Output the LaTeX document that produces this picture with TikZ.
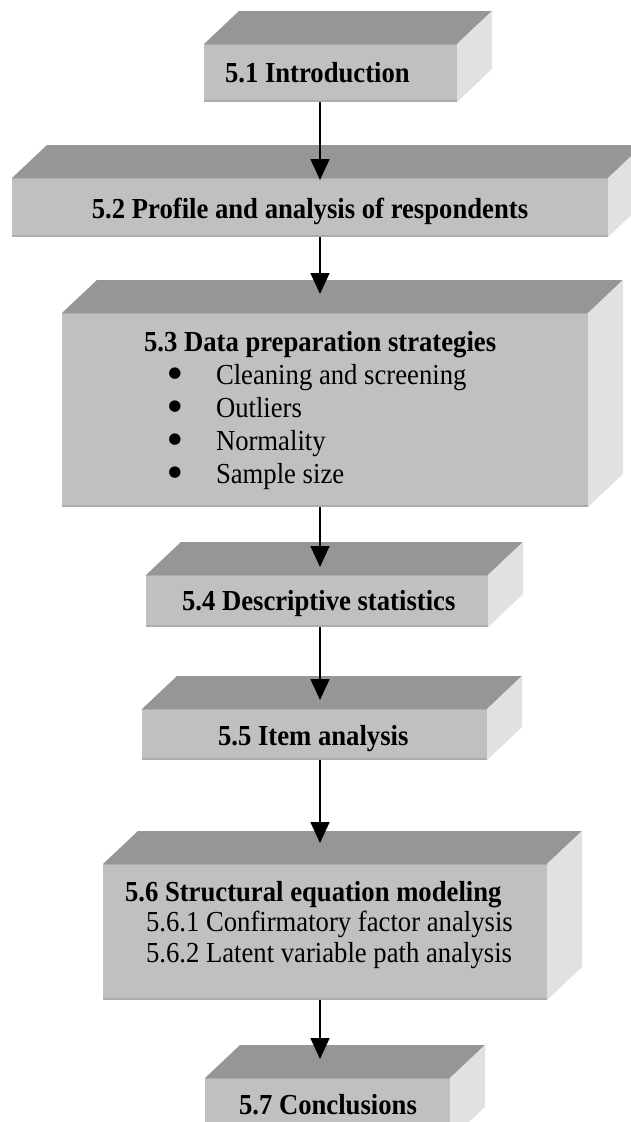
\documentclass[tikz,border=0pt]{standalone}
\usepackage{fontspec}
\setmainfont{Liberation Serif}[FakeStretch=0.92]
\newfontfamily\symfont{DejaVu Sans}
\usetikzlibrary{arrows.meta}

\definecolor{topgray}{RGB}{150,150,150}
\definecolor{frontgray}{RGB}{192,192,192}
\definecolor{sidegray}{RGB}{225,225,225}
\definecolor{edgegray}{RGB}{172,172,172}

\tikzset{
  frontface/.style={fill=frontgray, draw=none, inner sep=0pt, outer sep=0pt},
  txt/.style={inner sep=0pt, outer sep=0pt, font=\fontsize{29}{33}\selectfont},
  hd/.style={txt, font=\fontsize{29}{33}\selectfont\bfseries},
  flow/.style={line width=1.6pt, -{Triangle[width=19pt,length=21pt]}},
}

% bulleted item: a round bullet centred in a slot, then the text
\newcommand\bulletitem[1]{%
  \makebox[48pt][l]{\makebox[14pt][c]{\raisebox{3.75pt}{$\vcenter{\hbox{\symfont\fontsize{15}{15}\selectfont ●}}$}}}#1}

% 3-D slab: name, left, top, right, bottom of the front face
\newcommand\drawslab[5]{%
  \node[frontface, minimum width={(#4-#2)*1pt}, minimum height={(#5-#3)*1pt}]
    (#1) at ({(#2+#4)/2},{(#3+#5)/2}) {};
  \fill[topgray] (#1.north west) -- ++(35,-33) -- ++({#4-#2},0) -- (#1.north east) -- cycle;
  \fill[sidegray] (#1.north east) -- ++(35,-33) -- ++(0,{#5-#3}) -- (#1.south east) -- cycle;
  \draw[edgegray, line width=2pt] ([yshift=1pt]#1.south west) -- ([yshift=1pt]#1.south east);
  \draw[edgegray, line width=1pt] ([yshift=-0.5pt]#1.north west) -- ([yshift=-0.5pt]#1.north east);
}

\begin{document}
\begin{tikzpicture}[x=1pt, y=-1pt]
\useasboundingbox (0,0) rectangle (631,1122);
\clip (0,0) rectangle (631,1122);
\fill[white] (0,0) rectangle (631,1122);

% slabs
\drawslab{b1}{204}{44}{457}{102}
\drawslab{b2}{12}{178}{608}{237}
\drawslab{b3}{62}{313}{588}{507}
\drawslab{b4}{146}{575}{488}{627}
\drawslab{b5}{142}{709}{487}{760}
\drawslab{b6}{103}{864}{547}{1000}
\drawslab{b7}{205}{1078}{450}{1140}

% labels
\node[hd, anchor=base west] (t1) at (225,82) {5.1 Introduction};
\node[hd, anchor=base] (t2) at (310,218) {5.2 Profile and analysis of respondents};

\node[hd, anchor=base west] (t3) at (144,351) {5.3 Data preparation strategies};
\node[txt, anchor=base west] (s1) at (168,384) {\bulletitem{Cleaning and screening}};
\node[txt, anchor=base west] (s2) at (168,417) {\bulletitem{Outliers}};
\node[txt, anchor=base west] (s3) at (168,450) {\bulletitem{Normality}};
\node[txt, anchor=base west] (s4) at (168,483) {\bulletitem{Sample size}};

\node[hd, anchor=base west] (t4) at (182,610) {5.4 Descriptive statistics};
\node[hd, anchor=base west] (t5) at (218,745) {5.5 Item analysis};

\node[hd, anchor=base west] (t6) at (125,901) {5.6 Structural equation modeling};
\node[txt, anchor=base west] (u1) at (146,931) {5.6.1 Confirmatory factor analysis};
\node[txt, anchor=base west] (u2) at (146,962) {5.6.2 Latent variable path analysis};

\node[hd, anchor=base west] (t7) at (239,1114) {5.7 Conclusions};

% arrow tips on the next slab
\coordinate (in2) at (320,180);
\coordinate (in3) at (320,294);
\coordinate (in4) at (320,567);
\coordinate (in5) at (320,700);
\coordinate (in6) at (320,843);
\coordinate (in7) at (320,1059);

\draw[flow] (b1.south -| in2) -- (in2);
\draw[flow] (b2.south -| in3) -- (in3);
\draw[flow] (b3.south -| in4) -- (in4);
\draw[flow] (b4.south -| in5) -- (in5);
\draw[flow] (b5.south -| in6) -- (in6);
\draw[flow] (b6.south -| in7) -- (in7);
\end{tikzpicture}
\end{document}
